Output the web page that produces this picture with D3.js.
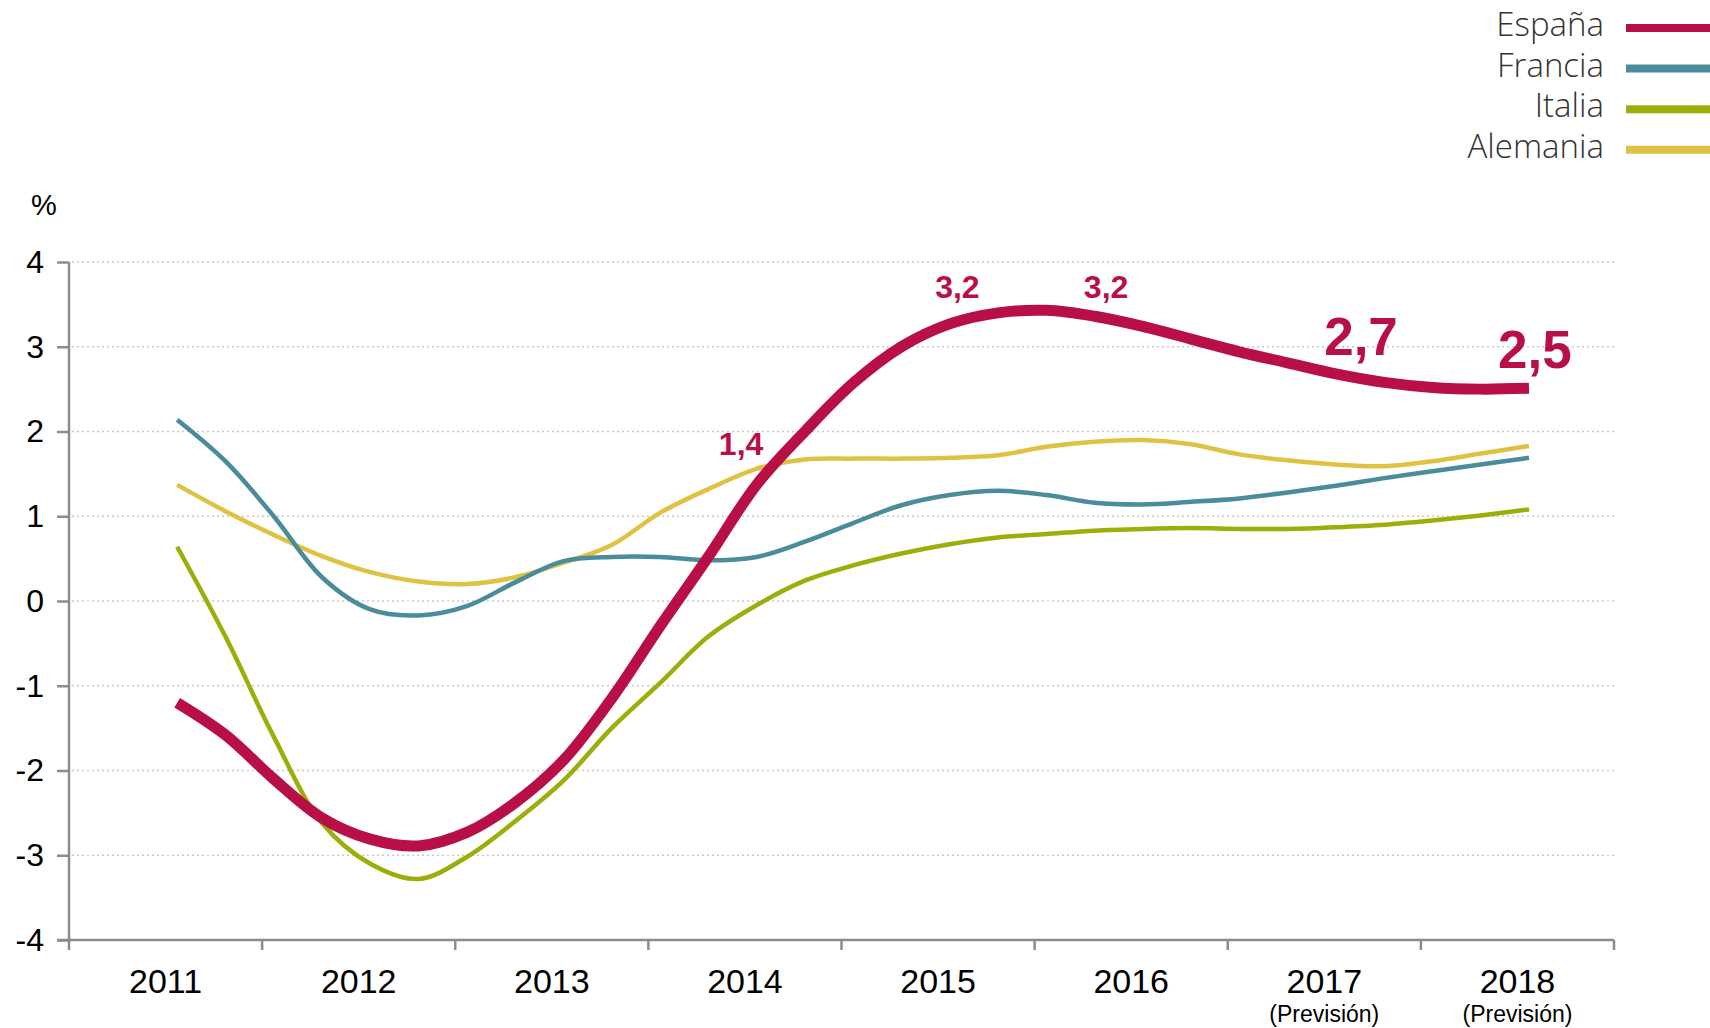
<!DOCTYPE html>
<html>
<head>
<meta charset="utf-8">
<script src="https://cdn.jsdelivr.net/npm/d3@7"></script>
<style>
  html, body { margin: 0; padding: 0; background: #fff; }
  svg { display: block; }
</style>
</head>
<body>
<div id="chartEl"></div>
<script>
// categories on the x axis
const years = ['2011', '2012', '2013', '2014', '2015', '2016', '2017', '2018'];
const forecastYears = ['2017', '2018'];
const yTicks = [-4, -3, -2, -1, 0, 1, 2, 3, 4];

const times = d3.range(29).map(i => 2011 + i / 4);
const espana = [-1.2, -1.58, -2.1, -2.56, -2.81, -2.89, -2.73, -2.38, -1.88, -1.15, -0.3, 0.52, 1.37,
  2.0, 2.57, 3.0, 3.27, 3.4, 3.43, 3.36, 3.24, 3.09, 2.94, 2.81, 2.68, 2.58, 2.52, 2.5, 2.51];
const francia = [2.14, 1.65, 1.0, 0.28, -0.1, -0.17, -0.06, 0.22, 0.47, 0.52, 0.52, 0.48, 0.52,
  0.7, 0.92, 1.13, 1.25, 1.3, 1.25, 1.16, 1.14, 1.17, 1.21, 1.28, 1.36, 1.45, 1.53, 1.61, 1.69];
const italia = [0.64, -0.42, -1.6, -2.62, -3.1, -3.28, -3.02, -2.6, -2.12, -1.5, -0.97, -0.42, -0.05,
  0.24, 0.42, 0.56, 0.67, 0.75, 0.79, 0.83, 0.85, 0.86, 0.85, 0.85, 0.87, 0.9, 0.95, 1.01, 1.08];
const alemania = [1.37, 1.06, 0.78, 0.53, 0.34, 0.23, 0.2, 0.28, 0.45, 0.66, 1.04, 1.32, 1.56,
  1.67, 1.68, 1.68, 1.69, 1.72, 1.82, 1.88, 1.9, 1.85, 1.73, 1.66, 1.61, 1.59, 1.65, 1.74, 1.83];

const seriesNames = ['España', 'Francia', 'Italia', 'Alemania'];
const seriesValues = [espana, francia, italia, alemania];
const seriesColors = ['#b80f46', '#4a8c9c', '#9bae0a', '#e0c243'];
const seriesWidths = [11, 4.5, 4.5, 4.5];

// value labels for España
const labelTexts = ['1,4', '3,2', '3,2', '2,7', '2,5'];
const labelTimes = [2013.92, 2015.04, 2015.81, 2017.13, 2018.03];
const labelValues = [1.72, 3.575, 3.575, 2.9, 2.75];
const labelSizes = [32, 32, 32, 53, 53];

function drawChart () {
  const width = 1710;
  const height = 1028;
  const margin = {top: 262, right: 96, bottom: 88, left: 69};
  const plotW = width - margin.left - margin.right;
  const plotH = height - margin.top - margin.bottom;
  const axisColor = '#8c8c8c';
  const font = '"Liberation Sans", Arial, sans-serif';

  const svg = d3.select('#chartEl').append('svg')
    .attr('width', width)
    .attr('height', height);

  const g = svg.append('g')
    .attr('transform', 'translate(' + margin.left + ',' + margin.top + ')');

  const xBand = d3.scaleBand()
    .domain(years)
    .range([0, plotW])
    .padding(0);
  const bw = xBand.bandwidth();

  // time positions sit a little right of the band centres
  const x = d3.scaleLinear()
    .domain([2011, 2018])
    .range([xBand('2011') + bw * 0.56, xBand('2018') + bw * 0.56]);

  const y = d3.scaleLinear()
    .domain([-4, 4])
    .range([plotH, 0]);

  // dotted grid
  g.append('g').selectAll('line')
    .data(yTicks.filter(d => d > -4))
    .enter().append('line')
    .attr('x1', 3)
    .attr('x2', plotW)
    .attr('y1', d => y(d))
    .attr('y2', d => y(d))
    .attr('stroke', '#c9c9c9')
    .attr('stroke-width', 1.4)
    .attr('stroke-dasharray', '2,3');

  // y axis
  const yAxis = d3.axisLeft(y)
    .tickValues(yTicks)
    .tickSize(12)
    .tickPadding(13)
    .tickFormat(d => String(d));
  const yG = g.append('g').call(yAxis);
  yG.select('.domain').remove();
  yG.append('line')
    .attr('x1', 0).attr('x2', 0)
    .attr('y1', 0).attr('y2', plotH)
    .attr('stroke', axisColor)
    .attr('stroke-width', 2.5);
  yG.selectAll('.tick line').attr('stroke', axisColor).attr('stroke-width', 2.5);
  yG.selectAll('.tick text')
    .attr('fill', '#000')
    .style('font-family', font)
    .style('font-size', '32px');

  // x axis
  const xAxis = d3.axisBottom(xBand)
    .tickSize(0)
    .tickPadding(0)
    .tickFormat(d => d);
  const xG = g.append('g')
    .attr('transform', 'translate(0,' + plotH + ')')
    .call(xAxis);
  xG.select('.domain').remove();
  xG.append('line')
    .attr('x1', -12).attr('x2', plotW)
    .attr('y1', 0).attr('y2', 0)
    .attr('stroke', axisColor)
    .attr('stroke-width', 2.5);
  xG.selectAll('.sep')
    .data(d3.range(years.length + 1))
    .enter().append('line')
    .attr('class', 'sep')
    .attr('x1', i => i * bw)
    .attr('x2', i => i * bw)
    .attr('y1', 0)
    .attr('y2', 10)
    .attr('stroke', axisColor)
    .attr('stroke-width', 2.5);
  xG.selectAll('.tick text')
    .attr('y', 53)
    .attr('dy', 0)
    .attr('fill', '#000')
    .style('font-family', font)
    .style('font-size', '34px');
  xG.selectAll('.tick')
    .filter(d => forecastYears.includes(d))
    .append('text')
    .attr('y', 82)
    .attr('fill', '#000')
    .attr('text-anchor', 'middle')
    .style('font-family', font)
    .style('font-size', '23px')
    .text('(Previsión)');

  // unit
  svg.append('text')
    .attr('x', 44)
    .attr('y', 215)
    .attr('text-anchor', 'middle')
    .style('font-family', font)
    .style('font-size', '29px')
    .text('%');

  // lines, España last so it sits on top
  const line = d3.line()
    .x((d, i) => x(times[i]))
    .y(d => y(d))
    .curve(d3.curveCatmullRom.alpha(0.5));

  const order = [3, 1, 2, 0];
  g.append('g').selectAll('path')
    .data(order)
    .enter().append('path')
    .attr('d', k => line(seriesValues[k]))
    .attr('fill', 'none')
    .attr('stroke', k => seriesColors[k])
    .attr('stroke-width', k => seriesWidths[k]);

  // España value labels
  g.append('g').selectAll('text')
    .data(labelTexts)
    .enter().append('text')
    .attr('x', (d, i) => x(labelTimes[i]))
    .attr('y', (d, i) => y(labelValues[i]))
    .attr('text-anchor', 'middle')
    .attr('fill', seriesColors[0])
    .style('font-family', font)
    .style('font-weight', 'bold')
    .style('font-size', (d, i) => labelSizes[i] + 'px')
    .text(d => d);

  // legend
  const legend = svg.append('g').selectAll('g')
    .data(seriesNames)
    .enter().append('g')
    .attr('transform', (d, i) => 'translate(0,' + (36 + i * 40.6) + ')');
  legend.append('text')
    .attr('x', 1604)
    .attr('y', 0)
    .attr('text-anchor', 'end')
    .attr('fill', '#333')
    .style('font-family', '"Open Sans", Lato, sans-serif')
    .style('font-weight', 300)
    .style('font-size', '33px')
    .text(d => d);
  legend.append('line')
    .attr('x1', 1626)
    .attr('x2', 1710)
    .attr('y1', -8)
    .attr('y2', -8)
    .attr('stroke', (d, i) => seriesColors[i])
    .attr('stroke-width', 8);
}

drawChart();
</script>
</body>
</html>
